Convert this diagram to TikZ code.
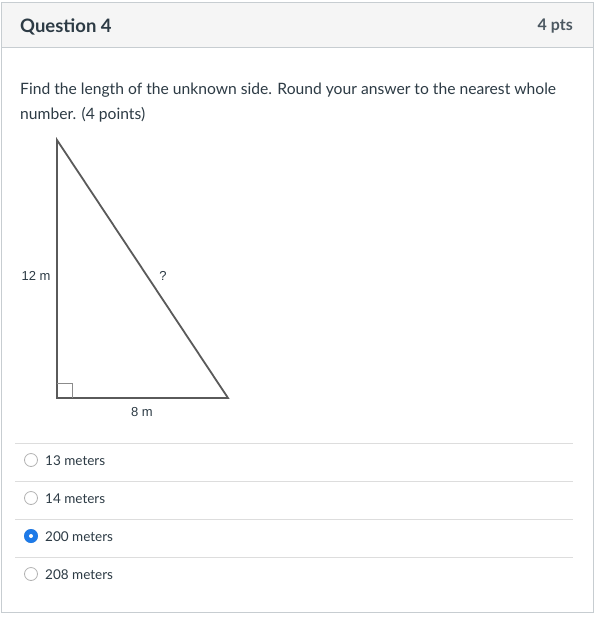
\documentclass[tikz,border=0pt]{standalone}
\usepackage{fontspec}
\setmainfont{Lato}
\newfontfamily\figfont{Liberation Sans}
\definecolor{headgray}{HTML}{F5F5F5}
\definecolor{framegray}{HTML}{C7CDD1}
\definecolor{rulegray}{HTML}{DDDDDD}
\definecolor{textdark}{HTML}{2D3B45}
\definecolor{trigray}{HTML}{5A5A5A}
\definecolor{radioblue}{HTML}{1D7AE8}
\tikzset{
  answer/.style={anchor=west,font=\fontsize{13.5}{16}\selectfont,text=textdark,inner sep=0pt},
  radio/.style={circle,draw=gray!60,fill=white,minimum size=13pt,inner sep=0pt,line width=0.8pt},
  sidelabel/.style={font=\figfont\fontsize{13}{15}\selectfont,text=textdark,inner sep=0pt},
}
\begin{document}
\begin{tikzpicture}[x=1pt,y=-1pt]
        \useasboundingbox (0,0) rectangle (595,619);
        % Frame and header
        \fill[white] (0,0) rectangle (595,619);
        \fill[headgray] (1,2) rectangle (593,47);
        \draw[framegray,line width=1pt] (1,2) rectangle (593,612);
        \draw[framegray,line width=1pt] (1,47) -- (593,47);
        \node[anchor=west,inner sep=0pt,font=\bfseries\fontsize{18.5}{20}\selectfont,text=textdark] (title) at (20,26.5) {Question 4};
        \node[anchor=east,inner sep=0pt,font=\bfseries\fontsize{16}{20}\selectfont,text=textdark!85] (pts) at (573,26.5) {4 pts};
        % Question text
        \node[anchor=west,inner sep=0pt,font=\fontsize{15.65}{18}\selectfont,text=textdark] (q1) at (20,90.5) {Find the length of the unknown side. Round your answer to the nearest whole};
        \node[anchor=west,inner sep=0pt,font=\fontsize{15.65}{18}\selectfont,text=textdark] (q2) at (20,114.5) {number. (4 points)};
        % Triangle
        \coordinate (top) at (57,140);
        \coordinate (corner) at (57,398);
        \coordinate (right) at (228,398);
        \draw[trigray,line width=1.8pt,line join=miter] (top) -- (corner) -- (right) -- cycle;
        \draw[trigray!70,line width=0.6pt] (57,383) -- (72,383) -- (72,398);
        \node[sidelabel] (lega) at (36,276) {12 m};
        \node[sidelabel] (hyp) at (163,276) {?};
        \node[sidelabel] (legb) at (142,412) {8 m};
        % Answers
        \foreach \y in {443,481,519,557}
          \draw[rulegray,line width=0.8pt] (15,\y) -- (573,\y);
        \foreach \y/\txt/\nm in {460/13 meters/a,498/14 meters/b,536/200 meters/c,574/208 meters/d} {
          \node[radio] (r\nm) at (31,\y) {};
          \node[answer] (t\nm) at (45,\y+1) {\txt};
        }
        \node[circle,fill=radioblue,minimum size=14pt,inner sep=0pt] (sel) at (rc) {};
        \node[circle,fill=white,minimum size=4pt,inner sep=0pt] (dot) at (rc) {};
      \end{tikzpicture}
\end{document}
